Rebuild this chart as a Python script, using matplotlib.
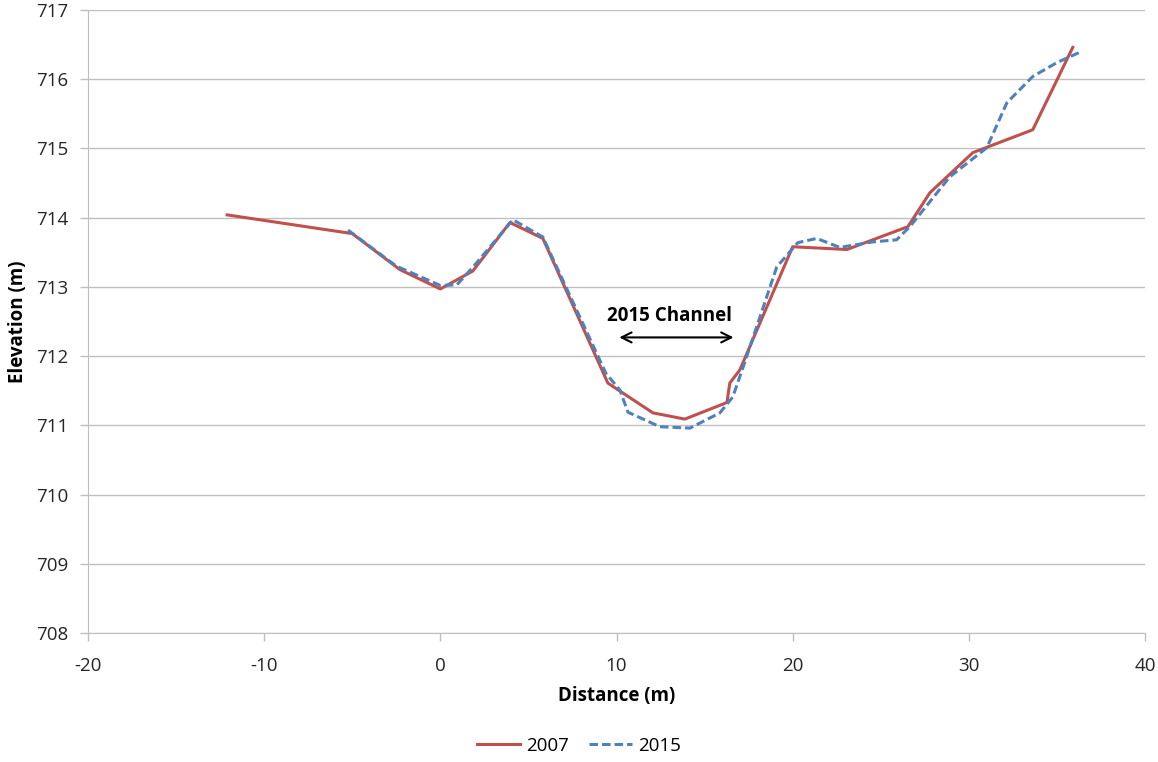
import matplotlib.pyplot as plt

# 2007 survey
x_2007 = [-12.1, -5.0, -2.3, 0.0, 1.85, 3.95, 5.82, 9.51, 12.07, 13.88, 16.27, 16.43, 17.0,
          20.0, 23.08, 26.54, 27.79, 30.23, 33.63, 35.9]
y_2007 = [714.04, 713.77, 713.25, 712.97, 713.23, 713.93, 713.70, 711.61, 711.18, 711.09, 711.33, 711.61, 711.80,
          713.58, 713.54, 713.87, 714.36, 714.94, 715.27, 716.46]

# 2015 survey
x_2015 = [-5.24, -2.5, 0.0, 0.94, 1.9, 4.12, 5.82, 9.4, 10.19, 10.65, 12.46, 14.17, 15.87, 16.6, 17.2,
          19.1, 20.3, 21.37, 22.68, 24.55, 25.9, 26.65, 28.92, 31.02, 32.16, 33.63, 35.0, 36.3]
y_2015 = [713.82, 713.3, 713.02, 713.03, 713.3, 713.97, 713.72, 711.75, 711.51, 711.19, 710.98, 710.96, 711.18, 711.41, 711.85,
          713.29, 713.64, 713.70, 713.57, 713.65, 713.68, 713.87, 714.59, 715.01, 715.66, 716.04, 716.24, 716.39]

x_ticks = [-20, -10, 0, 10, 20, 30, 40]
y_ticks = [708, 709, 710, 711, 712, 713, 714, 715, 716, 717]

plt.rcParams['font.family'] = ['Open Sans', 'DejaVu Sans']
plt.rcParams['axes.unicode_minus'] = False

fig = plt.figure(figsize=(11.58, 7.62), dpi=100)
ax = fig.add_axes([88 / 1158, 1 - 633 / 762, (1145 - 88) / 1158, (633 - 10) / 762])

ax.plot(x_2007, y_2007, color='#C0504D', lw=2.2, label='2007', zorder=3)
ax.plot(x_2015, y_2015, color='#4F81BD', lw=2.2, ls=(0, (2.8, 1.3)), label='2015', zorder=4)

ax.set_xlim(-20, 40)
ax.set_ylim(708, 717)
ax.set_xticks(x_ticks)
ax.set_yticks(y_ticks)
ax.tick_params(labelsize=13.5, labelcolor='#262626', color='#bfbfbf', length=6, width=1)
ax.tick_params(axis='x', pad=11)
ax.tick_params(axis='y', pad=8)
ax.grid(axis='y', color='#bfbfbf', lw=1)
ax.set_axisbelow(True)
for s in ['top', 'right']:
    ax.spines[s].set_visible(False)
for s in ['left', 'bottom']:
    ax.spines[s].set_color('#bfbfbf')

ax.set_xlabel('Distance (m)', fontsize=13.5, fontweight='bold', labelpad=8)
ax.set_ylabel('Elevation (m)', fontsize=13.5, fontweight='bold', labelpad=6)

ax.text(13.03, 712.58, '2015 Channel', fontsize=13.5, fontweight='bold', ha='center', va='center')
ax.annotate('', xy=(10.0, 712.27), xytext=(16.8, 712.27),
            arrowprops=dict(arrowstyle='<->', color='black', lw=1.5, mutation_scale=18))

fig.legend(loc='center', bbox_to_anchor=(0.5, 1 - 746 / 762), ncol=2, frameon=False,
           fontsize=13.5, handlelength=2.3, handletextpad=0.3, columnspacing=1.1)

fig.savefig('out.png', dpi=100)
